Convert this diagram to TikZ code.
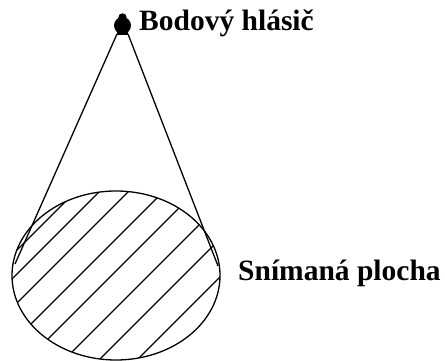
\documentclass[tikz,border=0pt]{standalone}
\usepackage{fontspec}
\setmainfont{Liberation Serif}
\tikzset{
    popis/.style={anchor=base west, inner sep=0pt, font=\fontsize{29.5}{34}\selectfont\bfseries},
    cara/.style={line width=1.3pt},
}
\begin{document}
\begin{tikzpicture}[x=1pt, y=-1pt]
    \useasboundingbox (0,0) rectangle (445,361);
    % hlasic
    \begin{scope}
        \fill (122.5,25.5) ellipse (8.5 and 8.5);
        \fill (122.5,17.5) circle (4.2);
        \fill (117,28) rectangle (128,35);
        \node[inner sep=0pt] (det) at (122.5,25.5) {};
        \coordinate (dl) at (117,34);
        \coordinate (dr) at (128,34);
        \node[popis] (hlasic) at (139,31) {Bodový hlásič};
    \end{scope}
    % snimana plocha
    \begin{scope}
        \coordinate (lt) at (15,264);
        \coordinate (rt) at (218,266);
        \draw[cara] (dl) -- (lt);
        \draw[cara] (dr) -- (rt);
        \draw[cara] (116,275.5) ellipse (104 and 84.5);
        \begin{scope}
            \clip (116,275.5) ellipse (104 and 84.5);
            \foreach \c in {267,291,320,355,387,424,459,497}
                \draw[cara] ({\c-150},150) -- ({\c-400},400);
        \end{scope}
        \node[popis] (plocha) at (238,280) {Snímaná plocha};
    \end{scope}
\end{tikzpicture}
\end{document}
